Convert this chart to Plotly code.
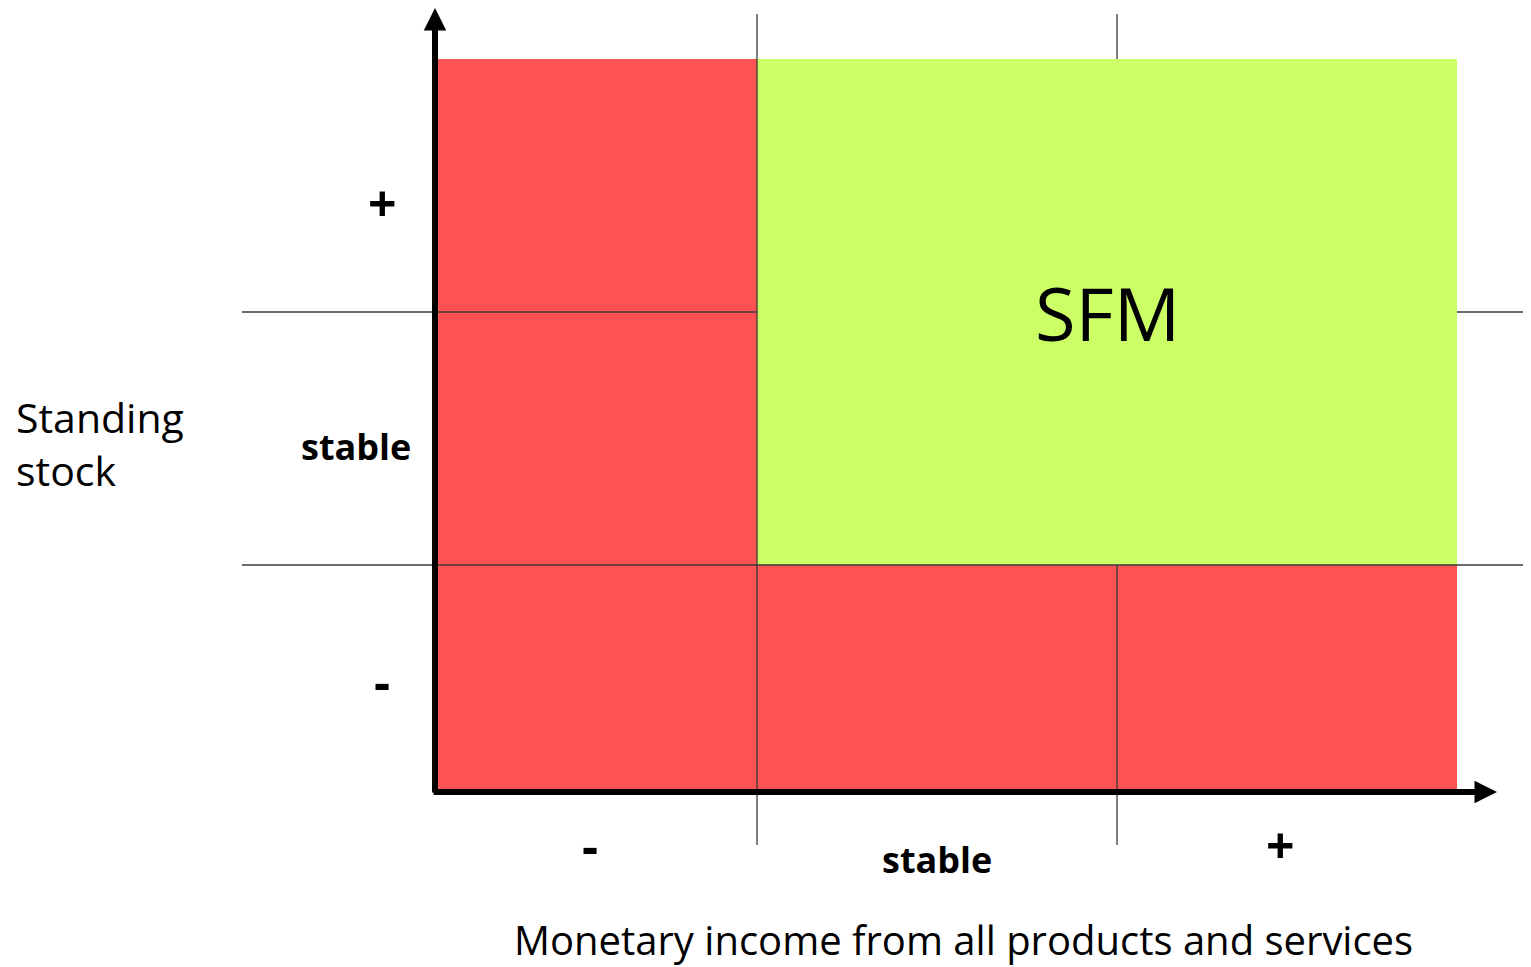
import plotly.graph_objects as go

# Grid layout (cell edges, arbitrary units)
X_EDGES = [0, 3.2, 6.8, 10.2]
Y_EDGES = [0, 2.27, 4.8, 7.33]

X_LABELS = ["-", "stable", "+"]
Y_LABELS = ["-", "stable", "+"]

# status per row (bottom -> top), per column (left -> right)
STATUS = [
    ["bad", "bad", "bad"],
    ["bad", "good", "good"],
    ["bad", "good", "good"],
]

REGION_LABEL = "SFM"
X_TITLE = "Monetary income from all products and services"
Y_TITLE = ["Standing", "stock"]

RED = "#ff5252"
GREEN = "#ccff66"
FONT = "Open Sans"

# the page body has an 8px margin, so the figure starts 8px in from the window corner
X_RANGE = [-4.29, 10.94]
Y_RANGE = [-1.75, 7.84]

fig = go.Figure()

# red cells
rx, ry = [], []
for r, row in enumerate(STATUS):
    for c, s in enumerate(row):
        if s != "bad":
            continue
        x0, x1 = X_EDGES[c], X_EDGES[c + 1]
        y0, y1 = Y_EDGES[r], Y_EDGES[r + 1]
        rx += [x0, x1, x1, x0, x0, None]
        ry += [y0, y0, y1, y1, y0, None]
fig.add_trace(go.Scatter(x=rx, y=ry, mode="lines", fill="toself", fillcolor=RED,
                         line=dict(width=0, color=RED), hoverinfo="skip"))

# bounding box of the green block
good = [(r, c) for r, row in enumerate(STATUS) for c, s in enumerate(row) if s == "good"]
gx0 = X_EDGES[min(c for _, c in good)]
gx1 = X_EDGES[max(c for _, c in good) + 1]
gy0 = Y_EDGES[min(r for r, _ in good)]
gy1 = Y_EDGES[max(r for r, _ in good) + 1]

# grid lines: the ones inside the green block go underneath it
inner_x, inner_y, outer_x, outer_y = [], [], [], []
for xv in X_EDGES[1:-1]:
    seg_x, seg_y = [xv, xv, None], [-0.53, 7.78, None]
    if gx0 < xv < gx1:
        inner_x += seg_x; inner_y += seg_y
    else:
        outer_x += seg_x; outer_y += seg_y
for yv in Y_EDGES[1:-1]:
    seg_x, seg_y = [-1.95, X_RANGE[1], None], [yv, yv, None]
    if gy0 < yv < gy1:
        inner_x += seg_x; inner_y += seg_y
    else:
        outer_x += seg_x; outer_y += seg_y

fig.add_trace(go.Scatter(x=inner_x, y=inner_y, mode="lines",
                         line=dict(color="#3a3a3a", width=1.3), hoverinfo="skip"))
fig.add_trace(go.Scatter(x=[gx0, gx1, gx1, gx0, gx0], y=[gy0, gy0, gy1, gy1, gy0],
                         mode="lines", fill="toself", fillcolor=GREEN,
                         line=dict(width=0, color=GREEN), hoverinfo="skip"))
fig.add_trace(go.Scatter(x=outer_x, y=outer_y, mode="lines",
                         line=dict(color="#3a3a3a", width=1.3), hoverinfo="skip"))

annotations = []

# axis arrows
for head, tail in [((-0.02, 7.84), (-0.02, -0.02)), ((10.6, 0.0), (-0.05, 0.0))]:
    annotations.append(dict(
        x=head[0], y=head[1], ax=tail[0], ay=tail[1],
        xref="x", yref="y", axref="x", ayref="y", text="",
        showarrow=True, arrowhead=2, arrowsize=0.75, arrowwidth=6,
        arrowcolor="black", standoff=0, startstandoff=0,
    ))


def label_font(lab):
    # the +/- signs are drawn noticeably larger than the words
    size = 36 if lab == "stable" else 50
    return dict(family=FONT, size=size, color="black", weight=700)


x_centers = [(a + b) / 2 for a, b in zip(X_EDGES[:-1], X_EDGES[1:])]
y_centers = [(a + b) / 2 for a, b in zip(Y_EDGES[:-1], Y_EDGES[1:])]
for xc, lab in zip(x_centers, X_LABELS):
    annotations.append(dict(x=xc, y=-0.6, xref="x", yref="y", text=lab, showarrow=False,
                            font=label_font(lab),
                            yshift=-7 if lab == "stable" else 7,
                            xshift=0 if lab == "stable" else -7))
y_shift = {"-": -2, "stable": -8, "+": -17}
for yc, lab in zip(y_centers, Y_LABELS):
    annotations.append(dict(x=-0.55, y=yc, xref="x", yref="y", text=lab, showarrow=False,
                            font=label_font(lab), yshift=y_shift[lab],
                            xshift=-26 if lab == "stable" else 0))

annotations.append(dict(x=(gx0 + gx1) / 2, y=(gy0 + gy1) / 2, xref="x", yref="y",
                        text=REGION_LABEL, showarrow=False,
                        font=dict(family=FONT, size=74, color="black")))
annotations.append(dict(x=5.26, y=-1.47, xref="x", yref="y", text=X_TITLE, showarrow=False,
                        font=dict(family=FONT, size=40, color="black")))
annotations.append(dict(x=-4.23, y=3.49, xref="x", yref="y", text="<br>".join(Y_TITLE),
                        showarrow=False, xanchor="left", align="left",
                        font=dict(family=FONT, size=41, color="black")))

fig.update_layout(
    width=1523,
    height=959,
    margin=dict(l=0, r=0, t=0, b=0),
    paper_bgcolor="white",
    plot_bgcolor="white",
    showlegend=False,
    xaxis=dict(range=X_RANGE, visible=False, fixedrange=True),
    yaxis=dict(range=Y_RANGE, visible=False, fixedrange=True),
    annotations=annotations,
)

fig.write_html("out.html")
